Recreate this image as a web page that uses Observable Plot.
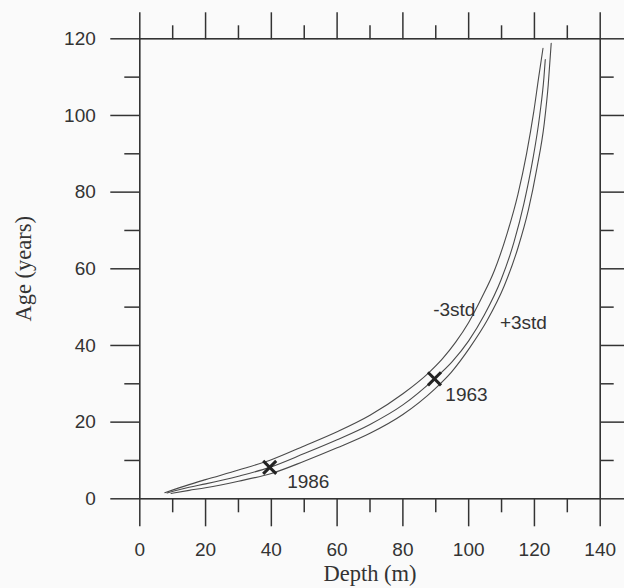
<!DOCTYPE html>
<html><head><meta charset="utf-8">
<script src="https://cdn.jsdelivr.net/npm/d3@7"></script>
<script src="https://cdn.jsdelivr.net/npm/@observablehq/plot@0.6"></script>
<style>body{margin:0;background:#fafafa}</style>
</head><body><div id="chart"></div>
<script>
// Middle (best estimate) depth–age curve
const midDepth = [8.3, 15, 20, 30, 39.5, 50, 60, 70, 80, 89.6, 95, 100, 104.8, 109.8, 113.8, 116.8, 119.4, 121.6, 122.9, 123.3];
const midAge   = [1.5, 3, 3.9, 5.9, 8.2, 11.8, 15.4, 19.4, 24.5, 31.3, 35.8, 41.2, 48, 57, 67, 77, 88, 100, 110, 114.6];
// -3std curve
const lowDepth = [7.6, 15, 20, 30, 40, 50, 60, 70, 80, 88, 92, 96, 100, 104, 107.8, 111.8, 115, 117.6, 119.8, 121.3, 122.6];
const lowAge   = [1.6, 3.7, 5.0, 7.5, 10.2, 13.8, 17.5, 21.8, 27.4, 33.0, 36.5, 40.8, 46.0, 52.5, 59.5, 69.5, 79.5, 90, 101, 110, 117.5];
// +3std curve
const highDepth = [9.5, 15, 20, 30, 40, 50, 60, 70, 80, 89.5, 94.7, 100.4, 105.6, 110.8, 115, 118.2, 120.7, 123, 124.2, 125.1];
const highAge   = [1.4, 2.2, 2.9, 4.6, 6.6, 9.8, 13.3, 17.1, 22, 28.5, 33.0, 39.5, 46.5, 55.5, 65.5, 75.5, 86, 98, 108, 118.8];

// Dated horizons
const markerYear  = ["1986", "1963"];
const markerDepth = [39.5, 89.6];
const markerAge   = [8.2, 31.3];

// Annotation texts and their anchors (depth, age)
const noteText  = ["1986", "1963", "-3std", "+3std"];
const noteDepth = [44.8, 92.9, 89.2, 109.5];
const noteAge   = [4.3, 27, 49.4, 45.8];

// Ticks
const majorX = [0, 20, 40, 60, 80, 100, 120, 140];
const minorX = [10, 30, 50, 70, 90, 110, 130];
const majorY = [0, 20, 40, 60, 80, 100, 120];
const minorY = [10, 30, 50, 70, 90, 110];

const rows = (d, a, s) => d.map((x, i) => ({depth: x, age: a[i], series: s}));
const curves = [
  ...rows(lowDepth, lowAge, "-3std"),
  ...rows(midDepth, midAge, "mean"),
  ...rows(highDepth, highAge, "+3std")
];
const markers = markerYear.map((y, i) => ({year: y, depth: markerDepth[i], age: markerAge[i]}));
const notes = noteText.map((t, i) => ({text: t, depth: noteDepth[i], age: noteAge[i]}));

const ink = "#333";
const serif = "'Liberation Serif', 'Times New Roman', serif";
const blank = () => "";
const axisStyle = {stroke: ink, strokeWidth: 1.5, label: null};

const chart = Plot.plot({
  width: 624, height: 588,
  marginLeft: 139.3, marginRight: 24.3, marginTop: 38.3, marginBottom: 89.7,
  x: {domain: [0, 140]},
  y: {domain: [0, 120]},
  style: {fontFamily: "'Liberation Sans', Arial, sans-serif", fontSize: "19px", color: ink, background: "#fafafa"},
  marks: [
    // outward ticks on all four sides
    Plot.axisX({...axisStyle, ticks: majorX, anchor: "bottom", tickSize: 28, tickPadding: 16, fontSize: 19, fill: ink}),
    Plot.axisX({...axisStyle, ticks: minorX, anchor: "bottom", tickSize: 14, tickFormat: blank}),
    Plot.axisX({...axisStyle, ticks: majorX, anchor: "top", tickSize: 27, tickFormat: blank}),
    Plot.axisX({...axisStyle, ticks: minorX, anchor: "top", tickSize: 14, tickFormat: blank}),
    Plot.axisY({...axisStyle, ticks: majorY, anchor: "left", tickSize: 29, tickPadding: 15, fontSize: 19, fill: ink}),
    Plot.axisY({...axisStyle, ticks: minorY, anchor: "left", tickSize: 15, tickFormat: blank}),
    Plot.axisY({...axisStyle, ticks: majorY, anchor: "right", tickSize: 28, tickFormat: blank}),
    Plot.axisY({...axisStyle, ticks: minorY, anchor: "right", tickSize: 13, tickFormat: blank}),
    Plot.frame({stroke: ink, strokeWidth: 1.6}),
    // curves
    Plot.line(curves, {x: "depth", y: "age", z: "series", curve: "monotone-x", stroke: "#4a4a4a", strokeWidth: 1.1}),
    // dated horizons
    Plot.dot(markers, {x: "depth", y: "age", symbol: "times", r: 6, stroke: "#222", strokeWidth: 3}),
    // annotations
    Plot.text(notes, {x: "depth", y: "age", text: "text", textAnchor: "start", lineAnchor: "middle", fill: ink, fontSize: 19}),
    // axis titles
    Plot.text(["Depth (m)"], {frameAnchor: "bottom", textAnchor: "middle", dy: 75, lineAnchor: "middle", fontFamily: serif, fontSize: 22.5, fill: ink}),
    Plot.text(["Age (years)"], {frameAnchor: "left", textAnchor: "middle", dx: -116, rotate: -90, lineAnchor: "middle", fontFamily: serif, fontSize: 22.5, fill: ink})
  ]
});
document.getElementById("chart").append(chart);
</script>
</body></html>
